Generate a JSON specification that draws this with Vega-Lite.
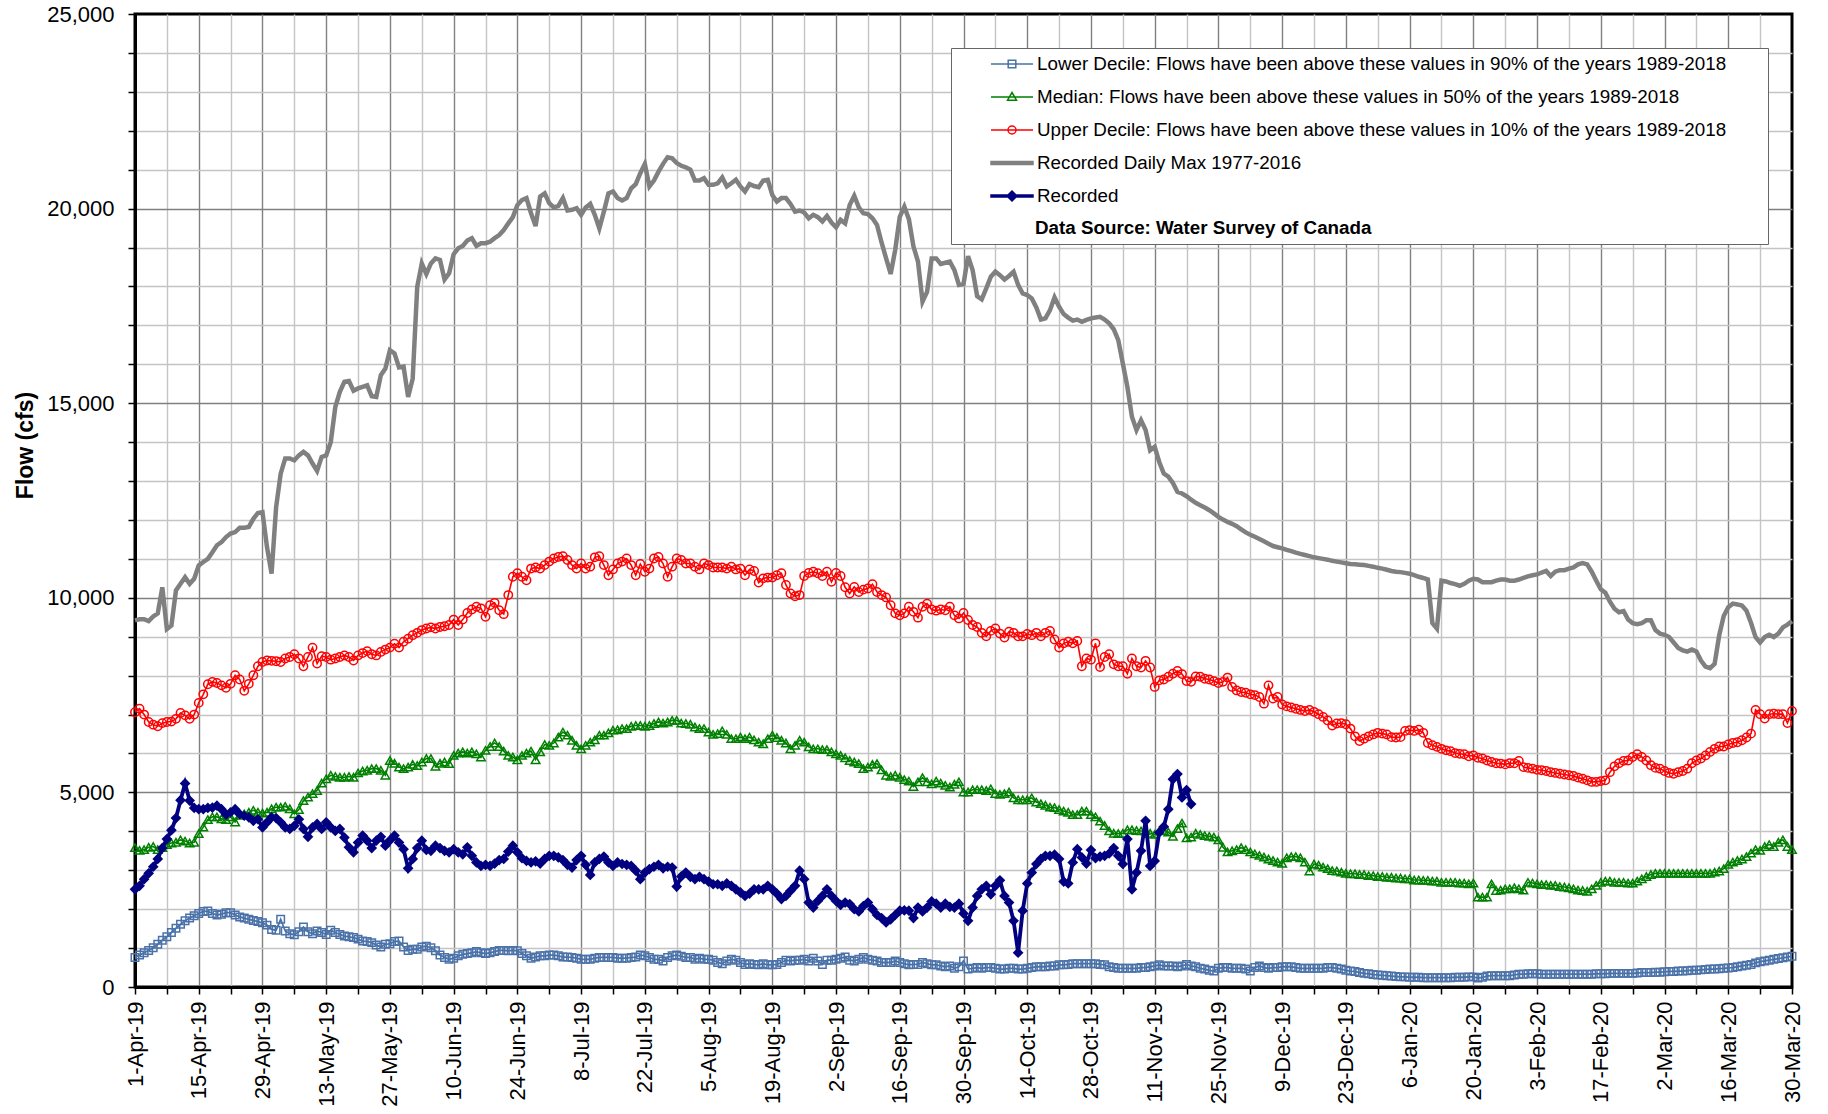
{
"$schema":"https://vega.github.io/schema/vega-lite/v6.json",
"width":1657,"height":973,
"autosize":{"type":"none"},
"padding":{"left":135,"top":14,"right":36,"bottom":127},
"background":"white",
"config":{"font":"Liberation Sans","view":{"stroke":"black","strokeWidth":3},"axis":{"labelFont":"Liberation Sans","titleFont":"Liberation Sans"},"legend":{"labelFont":"Liberation Sans","titleFont":"Liberation Sans"}},
"data":{"values":[
{"d":"2019-04-01","lo":760,"md":3580,"up":7060,"mx":9420,"rc":2510},
{"d":"2019-04-02","lo":820,"md":3510,"up":7150,"mx":9450,"rc":2600},
{"d":"2019-04-03","lo":880,"md":3530,"up":7000,"mx":9450,"rc":2770},
{"d":"2019-04-04","lo":940,"md":3590,"up":6810,"mx":9400,"rc":2920},
{"d":"2019-04-05","lo":1010,"md":3610,"up":6740,"mx":9520,"rc":3090},
{"d":"2019-04-06","lo":1100,"md":3530,"up":6700,"mx":9600,"rc":3290},
{"d":"2019-04-07","lo":1200,"md":3580,"up":6780,"mx":10270,"rc":3570},
{"d":"2019-04-08","lo":1290,"md":3660,"up":6810,"mx":9200,"rc":3800},
{"d":"2019-04-09","lo":1400,"md":3700,"up":6820,"mx":9290,"rc":4030},
{"d":"2019-04-10","lo":1510,"md":3720,"up":6890,"mx":10190,"rc":4340},
{"d":"2019-04-11","lo":1610,"md":3780,"up":7040,"mx":10360,"rc":4800},
{"d":"2019-04-12","lo":1700,"md":3750,"up":6980,"mx":10530,"rc":5230},
{"d":"2019-04-13","lo":1770,"md":3700,"up":6890,"mx":10360,"rc":4790},
{"d":"2019-04-14","lo":1830,"md":3720,"up":7000,"mx":10490,"rc":4600},
{"d":"2019-04-15","lo":1890,"md":3940,"up":7300,"mx":10830,"rc":4570},
{"d":"2019-04-16","lo":1940,"md":4110,"up":7520,"mx":10920,"rc":4570},
{"d":"2019-04-17","lo":1950,"md":4300,"up":7780,"mx":11000,"rc":4600},
{"d":"2019-04-18","lo":1890,"md":4370,"up":7840,"mx":11170,"rc":4610},
{"d":"2019-04-19","lo":1850,"md":4370,"up":7810,"mx":11350,"rc":4660},
{"d":"2019-04-20","lo":1870,"md":4320,"up":7750,"mx":11430,"rc":4570},
{"d":"2019-04-21","lo":1910,"md":4300,"up":7690,"mx":11560,"rc":4430},
{"d":"2019-04-22","lo":1910,"md":4370,"up":7790,"mx":11650,"rc":4490},
{"d":"2019-04-23","lo":1850,"md":4240,"up":8010,"mx":11690,"rc":4570},
{"d":"2019-04-24","lo":1800,"md":4410,"up":7900,"mx":11800,"rc":4440},
{"d":"2019-04-25","lo":1770,"md":4450,"up":7610,"mx":11800,"rc":4400},
{"d":"2019-04-26","lo":1740,"md":4490,"up":7790,"mx":11820,"rc":4360},
{"d":"2019-04-27","lo":1710,"md":4540,"up":8010,"mx":12030,"rc":4270},
{"d":"2019-04-28","lo":1680,"md":4490,"up":8240,"mx":12180,"rc":4310},
{"d":"2019-04-29","lo":1650,"md":4470,"up":8350,"mx":12200,"rc":4100},
{"d":"2019-04-30","lo":1590,"md":4490,"up":8390,"mx":11300,"rc":4230},
{"d":"2019-05-01","lo":1480,"md":4580,"up":8380,"mx":10620,"rc":4360},
{"d":"2019-05-02","lo":1460,"md":4620,"up":8370,"mx":12330,"rc":4340},
{"d":"2019-05-03","lo":1740,"md":4620,"up":8350,"mx":13190,"rc":4230},
{"d":"2019-05-04","lo":1440,"md":4640,"up":8440,"mx":13580,"rc":4100},
{"d":"2019-05-05","lo":1370,"md":4580,"up":8480,"mx":13580,"rc":4060},
{"d":"2019-05-06","lo":1340,"md":4450,"up":8550,"mx":13530,"rc":4140},
{"d":"2019-05-07","lo":1420,"md":4560,"up":8440,"mx":13660,"rc":4310},
{"d":"2019-05-08","lo":1540,"md":4790,"up":8240,"mx":13750,"rc":4060},
{"d":"2019-05-09","lo":1420,"md":4880,"up":8480,"mx":13660,"rc":3860},
{"d":"2019-05-10","lo":1370,"md":4970,"up":8720,"mx":13450,"rc":4100},
{"d":"2019-05-11","lo":1440,"md":5050,"up":8310,"mx":13260,"rc":4190},
{"d":"2019-05-12","lo":1400,"md":5240,"up":8500,"mx":13620,"rc":4060},
{"d":"2019-05-13","lo":1350,"md":5350,"up":8480,"mx":13660,"rc":4230},
{"d":"2019-05-14","lo":1460,"md":5440,"up":8410,"mx":14000,"rc":4100},
{"d":"2019-05-15","lo":1400,"md":5410,"up":8440,"mx":14900,"rc":4010},
{"d":"2019-05-16","lo":1350,"md":5390,"up":8480,"mx":15290,"rc":4060},
{"d":"2019-05-17","lo":1310,"md":5390,"up":8520,"mx":15550,"rc":3840},
{"d":"2019-05-18","lo":1290,"md":5410,"up":8480,"mx":15570,"rc":3590},
{"d":"2019-05-19","lo":1270,"md":5390,"up":8390,"mx":15320,"rc":3460},
{"d":"2019-05-20","lo":1230,"md":5500,"up":8520,"mx":15380,"rc":3710},
{"d":"2019-05-21","lo":1180,"md":5550,"up":8580,"mx":15420,"rc":3890},
{"d":"2019-05-22","lo":1170,"md":5570,"up":8630,"mx":15460,"rc":3760},
{"d":"2019-05-23","lo":1140,"md":5610,"up":8550,"mx":15180,"rc":3570},
{"d":"2019-05-24","lo":1080,"md":5610,"up":8520,"mx":15160,"rc":3760},
{"d":"2019-05-25","lo":1030,"md":5570,"up":8610,"mx":15720,"rc":3860},
{"d":"2019-05-26","lo":1100,"md":5440,"up":8670,"mx":15890,"rc":3630},
{"d":"2019-05-27","lo":1110,"md":5820,"up":8720,"mx":16360,"rc":3770},
{"d":"2019-05-28","lo":1170,"md":5750,"up":8820,"mx":16280,"rc":3890},
{"d":"2019-05-29","lo":1180,"md":5650,"up":8720,"mx":15920,"rc":3710},
{"d":"2019-05-30","lo":1030,"md":5610,"up":8870,"mx":15940,"rc":3540},
{"d":"2019-05-31","lo":940,"md":5650,"up":8950,"mx":15160,"rc":3050},
{"d":"2019-06-01","lo":970,"md":5720,"up":9040,"mx":15630,"rc":3290},
{"d":"2019-06-02","lo":970,"md":5690,"up":9100,"mx":17990,"rc":3570},
{"d":"2019-06-03","lo":1030,"md":5780,"up":9170,"mx":18590,"rc":3760},
{"d":"2019-06-04","lo":1050,"md":5870,"up":9210,"mx":18320,"rc":3520},
{"d":"2019-06-05","lo":1010,"md":5870,"up":9240,"mx":18590,"rc":3500},
{"d":"2019-06-06","lo":930,"md":5670,"up":9210,"mx":18720,"rc":3630},
{"d":"2019-06-07","lo":820,"md":5750,"up":9250,"mx":18680,"rc":3570},
{"d":"2019-06-08","lo":760,"md":5780,"up":9270,"mx":18180,"rc":3500},
{"d":"2019-06-09","lo":710,"md":5740,"up":9300,"mx":18340,"rc":3460},
{"d":"2019-06-10","lo":740,"md":5950,"up":9440,"mx":18830,"rc":3540},
{"d":"2019-06-11","lo":800,"md":6010,"up":9300,"mx":18980,"rc":3460},
{"d":"2019-06-12","lo":840,"md":6040,"up":9440,"mx":19040,"rc":3410},
{"d":"2019-06-13","lo":860,"md":6010,"up":9610,"mx":19180,"rc":3590},
{"d":"2019-06-14","lo":880,"md":6040,"up":9700,"mx":19240,"rc":3370},
{"d":"2019-06-15","lo":910,"md":5990,"up":9770,"mx":19040,"rc":3200},
{"d":"2019-06-16","lo":880,"md":5910,"up":9730,"mx":19110,"rc":3110},
{"d":"2019-06-17","lo":860,"md":6080,"up":9510,"mx":19110,"rc":3140},
{"d":"2019-06-18","lo":880,"md":6180,"up":9810,"mx":19150,"rc":3110},
{"d":"2019-06-19","lo":910,"md":6270,"up":9870,"mx":19240,"rc":3170},
{"d":"2019-06-20","lo":940,"md":6180,"up":9680,"mx":19320,"rc":3260},
{"d":"2019-06-21","lo":940,"md":6060,"up":9580,"mx":19450,"rc":3290},
{"d":"2019-06-22","lo":930,"md":5950,"up":10070,"mx":19620,"rc":3480},
{"d":"2019-06-23","lo":940,"md":5910,"up":10540,"mx":19780,"rc":3630},
{"d":"2019-06-24","lo":930,"md":5840,"up":10630,"mx":20090,"rc":3460},
{"d":"2019-06-25","lo":860,"md":5950,"up":10540,"mx":20220,"rc":3310},
{"d":"2019-06-26","lo":800,"md":6010,"up":10450,"mx":20270,"rc":3240},
{"d":"2019-06-27","lo":740,"md":6060,"up":10750,"mx":19880,"rc":3200},
{"d":"2019-06-28","lo":770,"md":5840,"up":10780,"mx":19550,"rc":3230},
{"d":"2019-06-29","lo":800,"md":6040,"up":10750,"mx":20310,"rc":3170},
{"d":"2019-06-30","lo":800,"md":6230,"up":10840,"mx":20390,"rc":3290},
{"d":"2019-07-01","lo":820,"md":6210,"up":10930,"mx":20140,"rc":3370},
{"d":"2019-07-02","lo":820,"md":6270,"up":11010,"mx":20030,"rc":3370},
{"d":"2019-07-03","lo":800,"md":6420,"up":11050,"mx":20070,"rc":3330},
{"d":"2019-07-04","lo":770,"md":6550,"up":11070,"mx":20270,"rc":3260},
{"d":"2019-07-05","lo":770,"md":6470,"up":10970,"mx":19950,"rc":3140},
{"d":"2019-07-06","lo":760,"md":6340,"up":10840,"mx":19970,"rc":3070},
{"d":"2019-07-07","lo":740,"md":6210,"up":10750,"mx":20010,"rc":3260},
{"d":"2019-07-08","lo":710,"md":6120,"up":10880,"mx":19840,"rc":3370},
{"d":"2019-07-09","lo":710,"md":6210,"up":10750,"mx":20030,"rc":3140},
{"d":"2019-07-10","lo":710,"md":6290,"up":10800,"mx":20120,"rc":2880},
{"d":"2019-07-11","lo":740,"md":6350,"up":11040,"mx":19840,"rc":3200},
{"d":"2019-07-12","lo":760,"md":6470,"up":11070,"mx":19490,"rc":3290},
{"d":"2019-07-13","lo":760,"md":6470,"up":10840,"mx":19920,"rc":3350},
{"d":"2019-07-14","lo":760,"md":6530,"up":10580,"mx":20390,"rc":3200},
{"d":"2019-07-15","lo":760,"md":6600,"up":10730,"mx":20440,"rc":3110},
{"d":"2019-07-16","lo":740,"md":6610,"up":10880,"mx":20270,"rc":3200},
{"d":"2019-07-17","lo":740,"md":6640,"up":10930,"mx":20210,"rc":3160},
{"d":"2019-07-18","lo":740,"md":6640,"up":11010,"mx":20270,"rc":3140},
{"d":"2019-07-19","lo":760,"md":6700,"up":10840,"mx":20520,"rc":3110},
{"d":"2019-07-20","lo":770,"md":6720,"up":10580,"mx":20630,"rc":2990},
{"d":"2019-07-21","lo":820,"md":6720,"up":10870,"mx":20910,"rc":2770},
{"d":"2019-07-22","lo":800,"md":6700,"up":10670,"mx":21150,"rc":2940},
{"d":"2019-07-23","lo":760,"md":6720,"up":10750,"mx":20570,"rc":3030},
{"d":"2019-07-24","lo":710,"md":6770,"up":11010,"mx":20720,"rc":3090},
{"d":"2019-07-25","lo":710,"md":6810,"up":11050,"mx":20950,"rc":3140},
{"d":"2019-07-26","lo":670,"md":6780,"up":10880,"mx":21150,"rc":3050},
{"d":"2019-07-27","lo":760,"md":6810,"up":10540,"mx":21320,"rc":3090},
{"d":"2019-07-28","lo":800,"md":6850,"up":10800,"mx":21290,"rc":3070},
{"d":"2019-07-29","lo":820,"md":6850,"up":11010,"mx":21170,"rc":2580},
{"d":"2019-07-30","lo":790,"md":6780,"up":10970,"mx":21100,"rc":2840},
{"d":"2019-07-31","lo":760,"md":6770,"up":10880,"mx":21060,"rc":2940},
{"d":"2019-08-01","lo":760,"md":6750,"up":10880,"mx":21000,"rc":2830},
{"d":"2019-08-02","lo":710,"md":6680,"up":10800,"mx":20720,"rc":2770},
{"d":"2019-08-03","lo":740,"md":6640,"up":10730,"mx":20720,"rc":2830},
{"d":"2019-08-04","lo":710,"md":6640,"up":10880,"mx":20780,"rc":2770},
{"d":"2019-08-05","lo":710,"md":6550,"up":10840,"mx":20610,"rc":2710},
{"d":"2019-08-06","lo":690,"md":6490,"up":10780,"mx":20610,"rc":2640},
{"d":"2019-08-07","lo":630,"md":6510,"up":10780,"mx":20650,"rc":2640},
{"d":"2019-08-08","lo":600,"md":6580,"up":10780,"mx":20800,"rc":2600},
{"d":"2019-08-09","lo":670,"md":6490,"up":10750,"mx":20570,"rc":2660},
{"d":"2019-08-10","lo":710,"md":6380,"up":10800,"mx":20650,"rc":2600},
{"d":"2019-08-11","lo":690,"md":6380,"up":10730,"mx":20740,"rc":2510},
{"d":"2019-08-12","lo":630,"md":6420,"up":10750,"mx":20570,"rc":2430},
{"d":"2019-08-13","lo":580,"md":6380,"up":10580,"mx":20440,"rc":2340},
{"d":"2019-08-14","lo":600,"md":6420,"up":10730,"mx":20630,"rc":2400},
{"d":"2019-08-15","lo":580,"md":6350,"up":10690,"mx":20580,"rc":2510},
{"d":"2019-08-16","lo":570,"md":6290,"up":10390,"mx":20550,"rc":2510},
{"d":"2019-08-17","lo":600,"md":6250,"up":10500,"mx":20720,"rc":2510},
{"d":"2019-08-18","lo":570,"md":6380,"up":10520,"mx":20740,"rc":2600},
{"d":"2019-08-19","lo":570,"md":6470,"up":10520,"mx":20350,"rc":2510},
{"d":"2019-08-20","lo":580,"md":6410,"up":10580,"mx":20180,"rc":2400},
{"d":"2019-08-21","lo":630,"md":6340,"up":10630,"mx":20270,"rc":2260},
{"d":"2019-08-22","lo":690,"md":6270,"up":10330,"mx":20270,"rc":2340},
{"d":"2019-08-23","lo":670,"md":6120,"up":10110,"mx":20120,"rc":2470},
{"d":"2019-08-24","lo":690,"md":6210,"up":10040,"mx":19920,"rc":2600},
{"d":"2019-08-25","lo":690,"md":6340,"up":10070,"mx":19950,"rc":2990},
{"d":"2019-08-26","lo":710,"md":6290,"up":10560,"mx":19900,"rc":2770},
{"d":"2019-08-27","lo":670,"md":6170,"up":10640,"mx":19750,"rc":2170},
{"d":"2019-08-28","lo":740,"md":6120,"up":10670,"mx":19840,"rc":2040},
{"d":"2019-08-29","lo":670,"md":6120,"up":10630,"mx":19780,"rc":2210},
{"d":"2019-08-30","lo":580,"md":6100,"up":10560,"mx":19670,"rc":2340},
{"d":"2019-08-31","lo":690,"md":6100,"up":10670,"mx":19810,"rc":2510},
{"d":"2019-09-01","lo":690,"md":6040,"up":10410,"mx":19640,"rc":2340},
{"d":"2019-09-02","lo":710,"md":5990,"up":10640,"mx":19520,"rc":2210},
{"d":"2019-09-03","lo":740,"md":5950,"up":10560,"mx":19710,"rc":2110},
{"d":"2019-09-04","lo":770,"md":5890,"up":10270,"mx":19620,"rc":2170},
{"d":"2019-09-05","lo":690,"md":5820,"up":10110,"mx":20090,"rc":2130},
{"d":"2019-09-06","lo":670,"md":5780,"up":10280,"mx":20330,"rc":2000},
{"d":"2019-09-07","lo":710,"md":5740,"up":10150,"mx":20030,"rc":1940},
{"d":"2019-09-08","lo":760,"md":5610,"up":10210,"mx":19880,"rc":2080},
{"d":"2019-09-09","lo":710,"md":5650,"up":10240,"mx":19860,"rc":2170},
{"d":"2019-09-10","lo":690,"md":5720,"up":10350,"mx":19750,"rc":2000},
{"d":"2019-09-11","lo":670,"md":5740,"up":10150,"mx":19580,"rc":1850},
{"d":"2019-09-12","lo":630,"md":5580,"up":10070,"mx":19130,"rc":1770},
{"d":"2019-09-13","lo":630,"md":5440,"up":10010,"mx":18720,"rc":1660},
{"d":"2019-09-14","lo":630,"md":5410,"up":9810,"mx":18320,"rc":1740},
{"d":"2019-09-15","lo":670,"md":5440,"up":9600,"mx":18940,"rc":1850},
{"d":"2019-09-16","lo":630,"md":5390,"up":9550,"mx":19790,"rc":1960},
{"d":"2019-09-17","lo":600,"md":5330,"up":9600,"mx":20050,"rc":1970},
{"d":"2019-09-18","lo":570,"md":5290,"up":9770,"mx":19730,"rc":1960},
{"d":"2019-09-19","lo":580,"md":5150,"up":9640,"mx":19030,"rc":1770},
{"d":"2019-09-20","lo":580,"md":5270,"up":9490,"mx":18640,"rc":2040},
{"d":"2019-09-21","lo":630,"md":5380,"up":9770,"mx":17610,"rc":1940},
{"d":"2019-09-22","lo":600,"md":5270,"up":9850,"mx":17860,"rc":2040},
{"d":"2019-09-23","lo":570,"md":5220,"up":9700,"mx":18720,"rc":2200},
{"d":"2019-09-24","lo":570,"md":5290,"up":9670,"mx":18720,"rc":2140},
{"d":"2019-09-25","lo":540,"md":5240,"up":9700,"mx":18580,"rc":2040},
{"d":"2019-09-26","lo":520,"md":5180,"up":9680,"mx":18610,"rc":2140},
{"d":"2019-09-27","lo":540,"md":5140,"up":9770,"mx":18640,"rc":2060},
{"d":"2019-09-28","lo":480,"md":5210,"up":9550,"mx":18420,"rc":2040},
{"d":"2019-09-29","lo":520,"md":5270,"up":9470,"mx":18040,"rc":2140},
{"d":"2019-09-30","lo":670,"md":5010,"up":9610,"mx":18060,"rc":1890},
{"d":"2019-10-01","lo":460,"md":5010,"up":9430,"mx":18780,"rc":1700},
{"d":"2019-10-02","lo":480,"md":5070,"up":9300,"mx":18420,"rc":2040},
{"d":"2019-10-03","lo":500,"md":5070,"up":9250,"mx":17750,"rc":2340},
{"d":"2019-10-04","lo":480,"md":5070,"up":9100,"mx":17670,"rc":2510},
{"d":"2019-10-05","lo":500,"md":5050,"up":9010,"mx":17950,"rc":2600},
{"d":"2019-10-06","lo":500,"md":5090,"up":9150,"mx":18250,"rc":2380},
{"d":"2019-10-07","lo":480,"md":4970,"up":9210,"mx":18380,"rc":2600},
{"d":"2019-10-08","lo":460,"md":4950,"up":9080,"mx":18290,"rc":2740},
{"d":"2019-10-09","lo":460,"md":4970,"up":8980,"mx":18180,"rc":2340},
{"d":"2019-10-10","lo":480,"md":5010,"up":9130,"mx":18270,"rc":2170},
{"d":"2019-10-11","lo":480,"md":4860,"up":9100,"mx":18380,"rc":1700},
{"d":"2019-10-12","lo":460,"md":4810,"up":9010,"mx":18040,"rc":880},
{"d":"2019-10-13","lo":460,"md":4810,"up":9010,"mx":17820,"rc":1960},
{"d":"2019-10-14","lo":480,"md":4810,"up":9070,"mx":17780,"rc":2660},
{"d":"2019-10-15","lo":500,"md":4860,"up":9040,"mx":17690,"rc":2940},
{"d":"2019-10-16","lo":520,"md":4750,"up":9100,"mx":17460,"rc":3160},
{"d":"2019-10-17","lo":520,"md":4710,"up":9010,"mx":17150,"rc":3290},
{"d":"2019-10-18","lo":520,"md":4670,"up":9100,"mx":17180,"rc":3370},
{"d":"2019-10-19","lo":540,"md":4620,"up":9150,"mx":17390,"rc":3370},
{"d":"2019-10-20","lo":540,"md":4610,"up":8930,"mx":17720,"rc":3400},
{"d":"2019-10-21","lo":570,"md":4560,"up":8720,"mx":17480,"rc":3290},
{"d":"2019-10-22","lo":570,"md":4520,"up":8830,"mx":17290,"rc":2710},
{"d":"2019-10-23","lo":580,"md":4490,"up":8870,"mx":17200,"rc":2660},
{"d":"2019-10-24","lo":600,"md":4430,"up":8830,"mx":17120,"rc":3200},
{"d":"2019-10-25","lo":600,"md":4430,"up":8890,"mx":17150,"rc":3540},
{"d":"2019-10-26","lo":600,"md":4520,"up":8240,"mx":17090,"rc":3330},
{"d":"2019-10-27","lo":600,"md":4520,"up":8440,"mx":17140,"rc":3170},
{"d":"2019-10-28","lo":600,"md":4430,"up":8410,"mx":17180,"rc":3520},
{"d":"2019-10-29","lo":600,"md":4370,"up":8830,"mx":17200,"rc":3310},
{"d":"2019-10-30","lo":580,"md":4260,"up":8220,"mx":17220,"rc":3350},
{"d":"2019-10-31","lo":570,"md":4150,"up":8480,"mx":17150,"rc":3370},
{"d":"2019-11-01","lo":520,"md":4010,"up":8550,"mx":17050,"rc":3430},
{"d":"2019-11-02","lo":500,"md":3950,"up":8290,"mx":16900,"rc":3570},
{"d":"2019-11-03","lo":480,"md":3940,"up":8240,"mx":16620,"rc":3370},
{"d":"2019-11-04","lo":480,"md":3950,"up":8240,"mx":16020,"rc":3160},
{"d":"2019-11-05","lo":480,"md":4040,"up":8050,"mx":15420,"rc":3800},
{"d":"2019-11-06","lo":480,"md":4040,"up":8440,"mx":14650,"rc":2510},
{"d":"2019-11-07","lo":480,"md":4020,"up":8240,"mx":14310,"rc":2940},
{"d":"2019-11-08","lo":500,"md":4010,"up":8210,"mx":14560,"rc":3500},
{"d":"2019-11-09","lo":500,"md":4010,"up":8380,"mx":14310,"rc":4270},
{"d":"2019-11-10","lo":520,"md":3950,"up":8210,"mx":13790,"rc":3110},
{"d":"2019-11-11","lo":540,"md":3920,"up":7710,"mx":13880,"rc":3240},
{"d":"2019-11-12","lo":570,"md":4010,"up":7880,"mx":13490,"rc":3970},
{"d":"2019-11-13","lo":540,"md":4020,"up":7900,"mx":13190,"rc":4120},
{"d":"2019-11-14","lo":540,"md":3980,"up":7970,"mx":13110,"rc":4570},
{"d":"2019-11-15","lo":540,"md":3870,"up":8050,"mx":12950,"rc":5340},
{"d":"2019-11-16","lo":520,"md":4070,"up":8120,"mx":12720,"rc":5470},
{"d":"2019-11-17","lo":540,"md":4210,"up":8040,"mx":12680,"rc":4870},
{"d":"2019-11-18","lo":580,"md":3830,"up":7860,"mx":12610,"rc":5060},
{"d":"2019-11-19","lo":540,"md":3850,"up":7840,"mx":12520,"rc":4700},
{"d":"2019-11-20","lo":520,"md":3950,"up":7980,"mx":12440},
{"d":"2019-11-21","lo":480,"md":3920,"up":7970,"mx":12380},
{"d":"2019-11-22","lo":460,"md":3890,"up":7920,"mx":12320},
{"d":"2019-11-23","lo":430,"md":3870,"up":7900,"mx":12250},
{"d":"2019-11-24","lo":410,"md":3850,"up":7860,"mx":12170},
{"d":"2019-11-25","lo":480,"md":3780,"up":7810,"mx":12080},
{"d":"2019-11-26","lo":500,"md":3590,"up":7840,"mx":12010},
{"d":"2019-11-27","lo":500,"md":3470,"up":7950,"mx":11950},
{"d":"2019-11-28","lo":480,"md":3500,"up":7710,"mx":11900},
{"d":"2019-11-29","lo":480,"md":3530,"up":7620,"mx":11840},
{"d":"2019-11-30","lo":480,"md":3580,"up":7580,"mx":11760},
{"d":"2019-12-01","lo":460,"md":3530,"up":7560,"mx":11680},
{"d":"2019-12-02","lo":410,"md":3470,"up":7520,"mx":11620},
{"d":"2019-12-03","lo":500,"md":3420,"up":7500,"mx":11570},
{"d":"2019-12-04","lo":540,"md":3380,"up":7450,"mx":11510},
{"d":"2019-12-05","lo":500,"md":3340,"up":7280,"mx":11450},
{"d":"2019-12-06","lo":480,"md":3290,"up":7750,"mx":11390},
{"d":"2019-12-07","lo":500,"md":3250,"up":7410,"mx":11330},
{"d":"2019-12-08","lo":500,"md":3210,"up":7450,"mx":11300},
{"d":"2019-12-09","lo":520,"md":3180,"up":7260,"mx":11270},
{"d":"2019-12-10","lo":520,"md":3320,"up":7210,"mx":11230},
{"d":"2019-12-11","lo":520,"md":3350,"up":7180,"mx":11200},
{"d":"2019-12-12","lo":500,"md":3350,"up":7150,"mx":11160},
{"d":"2019-12-13","lo":480,"md":3320,"up":7120,"mx":11130},
{"d":"2019-12-14","lo":480,"md":3210,"up":7090,"mx":11100},
{"d":"2019-12-15","lo":480,"md":2980,"up":7120,"mx":11070},
{"d":"2019-12-16","lo":480,"md":3160,"up":7070,"mx":11040},
{"d":"2019-12-17","lo":480,"md":3130,"up":7010,"mx":11020},
{"d":"2019-12-18","lo":480,"md":3080,"up":6940,"mx":11000},
{"d":"2019-12-19","lo":500,"md":3040,"up":6850,"mx":10980},
{"d":"2019-12-20","lo":500,"md":2990,"up":6720,"mx":10950},
{"d":"2019-12-21","lo":480,"md":2980,"up":6770,"mx":10930},
{"d":"2019-12-22","lo":460,"md":2950,"up":6780,"mx":10910},
{"d":"2019-12-23","lo":430,"md":2920,"up":6750,"mx":10890},
{"d":"2019-12-24","lo":410,"md":2910,"up":6640,"mx":10870},
{"d":"2019-12-25","lo":400,"md":2910,"up":6440,"mx":10860},
{"d":"2019-12-26","lo":370,"md":2890,"up":6320,"mx":10850},
{"d":"2019-12-27","lo":350,"md":2890,"up":6380,"mx":10840},
{"d":"2019-12-28","lo":340,"md":2860,"up":6440,"mx":10820},
{"d":"2019-12-29","lo":320,"md":2860,"up":6490,"mx":10800},
{"d":"2019-12-30","lo":310,"md":2840,"up":6530,"mx":10770},
{"d":"2019-12-31","lo":300,"md":2840,"up":6510,"mx":10750},
{"d":"2020-01-01","lo":290,"md":2820,"up":6490,"mx":10720},
{"d":"2020-01-02","lo":280,"md":2820,"up":6420,"mx":10690},
{"d":"2020-01-03","lo":270,"md":2800,"up":6410,"mx":10670},
{"d":"2020-01-04","lo":260,"md":2800,"up":6420,"mx":10660},
{"d":"2020-01-05","lo":260,"md":2780,"up":6580,"mx":10640},
{"d":"2020-01-06","lo":250,"md":2780,"up":6600,"mx":10620},
{"d":"2020-01-07","lo":250,"md":2750,"up":6580,"mx":10580},
{"d":"2020-01-08","lo":250,"md":2750,"up":6610,"mx":10540},
{"d":"2020-01-09","lo":240,"md":2740,"up":6530,"mx":10510},
{"d":"2020-01-10","lo":240,"md":2740,"up":6270,"mx":10470},
{"d":"2020-01-11","lo":240,"md":2720,"up":6210,"mx":9350},
{"d":"2020-01-12","lo":240,"md":2720,"up":6170,"mx":9210},
{"d":"2020-01-13","lo":240,"md":2690,"up":6120,"mx":10440},
{"d":"2020-01-14","lo":240,"md":2690,"up":6080,"mx":10420},
{"d":"2020-01-15","lo":240,"md":2690,"up":6060,"mx":10380},
{"d":"2020-01-16","lo":250,"md":2690,"up":6010,"mx":10350},
{"d":"2020-01-17","lo":250,"md":2670,"up":5990,"mx":10310},
{"d":"2020-01-18","lo":250,"md":2670,"up":5980,"mx":10360},
{"d":"2020-01-19","lo":260,"md":2650,"up":5930,"mx":10440},
{"d":"2020-01-20","lo":260,"md":2670,"up":5950,"mx":10490},
{"d":"2020-01-21","lo":230,"md":2310,"up":5890,"mx":10470},
{"d":"2020-01-22","lo":250,"md":2310,"up":5870,"mx":10400},
{"d":"2020-01-23","lo":280,"md":2310,"up":5820,"mx":10400},
{"d":"2020-01-24","lo":290,"md":2650,"up":5780,"mx":10400},
{"d":"2020-01-25","lo":290,"md":2480,"up":5750,"mx":10440},
{"d":"2020-01-26","lo":290,"md":2490,"up":5740,"mx":10470},
{"d":"2020-01-27","lo":290,"md":2520,"up":5720,"mx":10470},
{"d":"2020-01-28","lo":290,"md":2520,"up":5750,"mx":10440},
{"d":"2020-01-29","lo":310,"md":2550,"up":5750,"mx":10440},
{"d":"2020-01-30","lo":330,"md":2520,"up":5810,"mx":10470},
{"d":"2020-01-31","lo":330,"md":2490,"up":5650,"mx":10510},
{"d":"2020-02-01","lo":340,"md":2690,"up":5630,"mx":10550},
{"d":"2020-02-02","lo":340,"md":2670,"up":5610,"mx":10580},
{"d":"2020-02-03","lo":340,"md":2650,"up":5580,"mx":10600},
{"d":"2020-02-04","lo":330,"md":2630,"up":5570,"mx":10650},
{"d":"2020-02-05","lo":330,"md":2630,"up":5550,"mx":10690},
{"d":"2020-02-06","lo":330,"md":2610,"up":5520,"mx":10560},
{"d":"2020-02-07","lo":330,"md":2610,"up":5500,"mx":10670},
{"d":"2020-02-08","lo":330,"md":2580,"up":5480,"mx":10710},
{"d":"2020-02-09","lo":330,"md":2570,"up":5460,"mx":10710},
{"d":"2020-02-10","lo":330,"md":2550,"up":5440,"mx":10750},
{"d":"2020-02-11","lo":330,"md":2520,"up":5420,"mx":10780},
{"d":"2020-02-12","lo":330,"md":2490,"up":5380,"mx":10860},
{"d":"2020-02-13","lo":330,"md":2480,"up":5350,"mx":10890},
{"d":"2020-02-14","lo":330,"md":2460,"up":5310,"mx":10860},
{"d":"2020-02-15","lo":330,"md":2520,"up":5270,"mx":10670},
{"d":"2020-02-16","lo":340,"md":2610,"up":5270,"mx":10440},
{"d":"2020-02-17","lo":340,"md":2690,"up":5290,"mx":10220},
{"d":"2020-02-18","lo":340,"md":2720,"up":5310,"mx":10130},
{"d":"2020-02-19","lo":350,"md":2720,"up":5520,"mx":9900},
{"d":"2020-02-20","lo":350,"md":2690,"up":5670,"mx":9720},
{"d":"2020-02-21","lo":350,"md":2690,"up":5750,"mx":9630},
{"d":"2020-02-22","lo":350,"md":2690,"up":5810,"mx":9660},
{"d":"2020-02-23","lo":350,"md":2670,"up":5820,"mx":9440},
{"d":"2020-02-24","lo":350,"md":2670,"up":5910,"mx":9350},
{"d":"2020-02-25","lo":360,"md":2720,"up":5980,"mx":9320},
{"d":"2020-02-26","lo":370,"md":2780,"up":5910,"mx":9350},
{"d":"2020-02-27","lo":370,"md":2840,"up":5820,"mx":9420},
{"d":"2020-02-28","lo":370,"md":2890,"up":5700,"mx":9420},
{"d":"2020-02-29","lo":380,"md":2920,"up":5630,"mx":9170},
{"d":"2020-03-01","lo":380,"md":2920,"up":5610,"mx":9080},
{"d":"2020-03-02","lo":390,"md":2920,"up":5550,"mx":9050},
{"d":"2020-03-03","lo":400,"md":2920,"up":5500,"mx":8990},
{"d":"2020-03-04","lo":400,"md":2920,"up":5480,"mx":8850},
{"d":"2020-03-05","lo":410,"md":2920,"up":5520,"mx":8710},
{"d":"2020-03-06","lo":410,"md":2920,"up":5550,"mx":8650},
{"d":"2020-03-07","lo":420,"md":2920,"up":5610,"mx":8620},
{"d":"2020-03-08","lo":430,"md":2920,"up":5750,"mx":8670},
{"d":"2020-03-09","lo":430,"md":2920,"up":5820,"mx":8620},
{"d":"2020-03-10","lo":440,"md":2920,"up":5870,"mx":8390},
{"d":"2020-03-11","lo":450,"md":2920,"up":5950,"mx":8230},
{"d":"2020-03-12","lo":460,"md":2920,"up":6040,"mx":8190},
{"d":"2020-03-13","lo":460,"md":2950,"up":6120,"mx":8300},
{"d":"2020-03-14","lo":470,"md":2980,"up":6180,"mx":9030},
{"d":"2020-03-15","lo":480,"md":3040,"up":6180,"mx":9530},
{"d":"2020-03-16","lo":490,"md":3150,"up":6230,"mx":9760},
{"d":"2020-03-17","lo":500,"md":3210,"up":6270,"mx":9850},
{"d":"2020-03-18","lo":520,"md":3250,"up":6290,"mx":9830},
{"d":"2020-03-19","lo":540,"md":3290,"up":6340,"mx":9800},
{"d":"2020-03-20","lo":560,"md":3350,"up":6410,"mx":9670},
{"d":"2020-03-21","lo":580,"md":3440,"up":6510,"mx":9350},
{"d":"2020-03-22","lo":620,"md":3530,"up":7120,"mx":8990},
{"d":"2020-03-23","lo":650,"md":3510,"up":7010,"mx":8850},
{"d":"2020-03-24","lo":670,"md":3610,"up":6900,"mx":8990},
{"d":"2020-03-25","lo":690,"md":3660,"up":7010,"mx":9050},
{"d":"2020-03-26","lo":710,"md":3610,"up":7020,"mx":8990},
{"d":"2020-03-27","lo":730,"md":3720,"up":7010,"mx":9080},
{"d":"2020-03-28","lo":750,"md":3780,"up":7010,"mx":9240},
{"d":"2020-03-29","lo":770,"md":3610,"up":6780,"mx":9310},
{"d":"2020-03-30","lo":790,"md":3530,"up":7090,"mx":9400}
]},
"transform":[{"fold":["lo","md","up","mx","rc"],"as":["k","v"]}],
"encoding":{
"x":{"field":"d","type":"temporal","title":null,
"scale":{"type":"utc","domain":[{"year":2019,"month":4,"date":1,"utc":true},{"year":2020,"month":3,"date":30,"utc":true}],"nice":false},
"axis":{"values":{"expr":"utcSequence('day', utc(2019,3,1), utc(2020,2,31), 7)"},
"labelExpr":"(datum.value - utc(2019,3,1)) % 1209600000 === 0 ? utcFormat(datum.value, '%-d-%b-%y') : ''",
"labelAngle":270,"labelFontSize":22,"labelColor":"black","labelPadding":7,"labelOverlap":false,"labelFlush":false,"labelBound":false,
"tickSize":7,"tickColor":"black","tickWidth":1.5,
"gridColor":{"condition":{"test":"(datum.value - utc(2019,3,1)) % 1209600000 === 0","value":"#808080"},"value":"#c4c4c4"},
"gridOpacity":{"condition":{"test":"datum.value - utc(2019,3,1) === 0 || datum.value - utc(2020,2,30) === 0","value":0},"value":1},
"gridWidth":1.4,"domainColor":"black","domainWidth":3}},
"y":{"field":"v","type":"quantitative","title":"Flow (cfs)",
"scale":{"domain":[0,25000],"nice":false},
"axis":{"values":{"expr":"sequence(0, 25001, 1000)"},
"labelExpr":"datum.value % 5000 === 0 ? format(datum.value, ',') : ''",
"labelFontSize":22,"labelColor":"black","labelPadding":14,"labelOverlap":false,"labelFlush":false,
"tickSize":7,"tickColor":"black","tickWidth":1.5,
"gridColor":{"condition":{"test":"datum.value % 5000 === 0","value":"#808080"},"value":"#c4c4c4"},
"gridOpacity":{"condition":{"test":"datum.value === 0 || datum.value === 25000","value":0},"value":1},
"gridWidth":1.4,"domainColor":"black","domainWidth":3,
"titleFontSize":23,"titleFontWeight":"bold","titleColor":"black","titleX":-110,"titleY":431,"titleAngle":270,"titleAlign":"center","titleBaseline":"middle"}}
},
"layer":[
{"transform":[{"filter":"datum.k === 'lo'"}],"mark":{"type":"line","color":"#4a72a9","strokeWidth":1.8}},
{"transform":[{"filter":"datum.k === 'lo'"}],"mark":{"type":"point","shape":"square","size":56,"color":"#4a72a9","filled":false,"strokeWidth":1.5,"opacity":1}},
{"transform":[{"filter":"datum.k === 'md'"}],"mark":{"type":"line","color":"#008000","strokeWidth":1.6}},
{"transform":[{"filter":"datum.k === 'md'"}],"mark":{"type":"point","shape":"triangle-up","size":72,"color":"#008000","filled":false,"strokeWidth":1.5,"opacity":1}},
{"transform":[{"filter":"datum.k === 'up'"}],"mark":{"type":"line","color":"#ff0000","strokeWidth":1.6}},
{"transform":[{"filter":"datum.k === 'up'"}],"mark":{"type":"point","shape":"circle","size":70,"color":"#ff0000","filled":false,"strokeWidth":1.5,"opacity":1}},
{"transform":[{"filter":"datum.k === 'mx'"}],"mark":{"type":"line","color":"#808080","strokeWidth":4.5}},
{"transform":[{"filter":"datum.k === 'rc'"}],"mark":{"type":"line","color":"#000080","strokeWidth":3.8}},
{"transform":[{"filter":"datum.k === 'rc'"}],"mark":{"type":"point","shape":"diamond","size":115,"color":"#000080","filled":true,"opacity":1}},
{"transform":[{"filter":"false"}],"mark":{"type":"point","filled":true},
"encoding":{
"stroke":{"field":"k","type":"nominal","title":".",
"scale":{"domain":["Lower Decile: Flows have been above these values in 90% of the years 1989-2018","Median: Flows have been above these values in 50% of the years 1989-2018","Upper Decile: Flows have been above these values in 10% of the years 1989-2018","Recorded Daily Max 1977-2016","Recorded","\u200b"],"range":["#4a72a9","#008000","#ff0000","#808080","#000080","transparent"]},
"legend":{"orient":"none","legendX":816,"legendY":34,"title":".","titleOrient":"right","titlePadding":31,"titleFontSize":18.8,"titleColor":"transparent","padding":5,"strokeColor":"#666666","fillColor":"white",
"labelFontSize":18.8,"labelColor":"black","labelLimit":0,"zindex":0,
"symbolSize":400,"symbolStrokeWidth":1.5,"symbolOffset":45,"labelOffset":14,"rowPadding":12,"symbolOpacity":1}},
"fill":{"field":"k","type":"nominal","title":".",
"scale":{"domain":["Lower Decile: Flows have been above these values in 90% of the years 1989-2018","Median: Flows have been above these values in 50% of the years 1989-2018","Upper Decile: Flows have been above these values in 10% of the years 1989-2018","Recorded Daily Max 1977-2016","Recorded","\u200b"],"range":["white","white","white","#808080","#000080","transparent"]},
"legend":{"orient":"none","legendX":816,"legendY":34,"title":".","titleOrient":"right","titlePadding":31,"titleFontSize":18.8,"titleColor":"transparent","padding":5,"strokeColor":"#666666","fillColor":"white",
"labelFontSize":18.8,"labelColor":"black","labelLimit":0,"zindex":0,
"symbolSize":400,"symbolStrokeWidth":1.5,"symbolOffset":45,"labelOffset":14,"rowPadding":12,"symbolOpacity":1}},
"shape":{"field":"k","type":"nominal","title":".",
"scale":{"domain":["Lower Decile: Flows have been above these values in 90% of the years 1989-2018","Median: Flows have been above these values in 50% of the years 1989-2018","Upper Decile: Flows have been above these values in 10% of the years 1989-2018","Recorded Daily Max 1977-2016","Recorded","\u200b"],"range":["M-2.1,0H2.1M-0.38,-0.38H0.38V0.38H-0.38Z","M-2.1,0H2.1M0,-0.45L0.45,0.32H-0.45Z","M-2.1,0H2.1M-0.4,0A0.4,0.4 0 1,0 0.4,0A0.4,0.4 0 1,0 -0.4,0Z","M-2.1,-0.15H2.1V0.15H-2.1Z","M-2.1,-0.11H2.1V0.11H-2.1ZM0,-0.5L0.5,0L0,0.5L-0.5,0Z","M0,0"]},
"legend":{"orient":"none","legendX":816,"legendY":34,"title":".","titleOrient":"right","titlePadding":31,"titleFontSize":18.8,"titleColor":"transparent","padding":5,"strokeColor":"#666666","fillColor":"white",
"labelFontSize":18.8,"labelColor":"black","labelLimit":0,"zindex":0,
"symbolSize":400,"symbolStrokeWidth":1.5,"symbolOffset":45,"labelOffset":14,"rowPadding":12,"symbolOpacity":1}},
"strokeDash":{"field":"k","type":"nominal","title":null,
"scale":{"domain":["Data Source: Water Survey of Canada"],"range":[[1,0]]},
"legend":{"orient":"none","legendX":816,"legendY":199,"title":null,"padding":5,
"labelFontSize":18.8,"labelFontWeight":"bold","labelColor":"black","labelLimit":0,"zindex":2,
"symbolSize":400,"symbolStrokeWidth":0,"symbolOffset":45,"labelOffset":14,"rowPadding":12,"symbolOpacity":0,"symbolType":"circle"}}
}}
]
}
